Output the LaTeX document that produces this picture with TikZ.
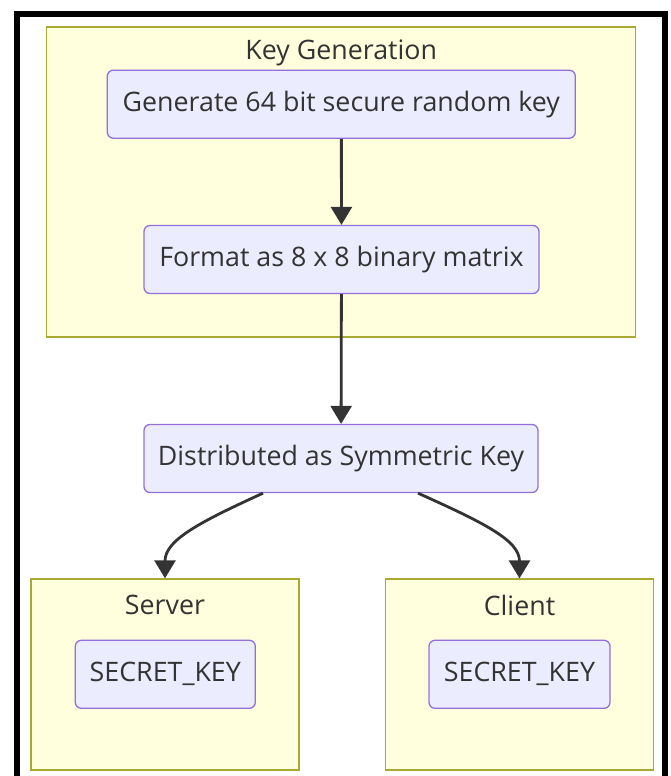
\documentclass[tikz,border=0pt]{standalone}
\usepackage{fontspec}
\setmainfont{Open Sans}
\usetikzlibrary{arrows.meta,calc}
\definecolor{clusterfill}{HTML}{FFFFDE}
\definecolor{clusterline}{HTML}{AAAA33}
\definecolor{nodefill}{HTML}{ECECFF}
\definecolor{nodeline}{HTML}{9370DB}
\definecolor{ink}{HTML}{333333}
\tikzset{
  x=1pt, y=-1pt,
  cluster/.style={draw=clusterline, fill=clusterfill, line width=1.3pt, inner sep=0pt},
  proc/.style={draw=nodeline, fill=nodefill, line width=1.3pt, rounded corners=6pt,
    inner sep=0pt, text=ink, font=\fontsize{26.8}{30}\selectfont},
  title/.style={text=ink, font=\fontsize{26.8}{30}\selectfont, inner sep=0pt},
  link/.style={draw=ink, line width=2.8pt, -{Triangle[length=18pt,width=21pt]}},
}
\begin{document}
\begin{tikzpicture}
\useasboundingbox (0,0) rectangle (670,776);
\begin{scope}
\clip (0,0) rectangle (670,776);
% outer frame, running off the lower edge
\draw[line width=6pt] (17,14.5) rectangle (665,820);
\end{scope}

% subgraph boxes
\node[cluster, minimum width=589pt, minimum height=310pt] (keygen) at (341.2,182) {};
\node[title] (keygenT) at (341.2,53) {Key Generation};
\node[cluster, minimum width=268pt, minimum height=191pt] (serverbox) at (165,674.5) {};
\node[title] (serverT) at (165,605) {Server};
\node[cluster, minimum width=268pt, minimum height=191pt] (clientbox) at (519.5,674.5) {};
\node[title] (clientT) at (519.5,605) {Client};

% process nodes
\node[proc, minimum width=468pt, minimum height=68pt] (gen) at (341.3,104.2) {Generate 64 bit secure random key};
\node[proc, minimum width=395pt, minimum height=68pt] (fmt) at (341.5,259.5) {Format as 8 x 8 binary matrix};
\node[proc, minimum width=394pt, minimum height=68pt] (dist) at (341,458.5) {Distributed as Symmetric Key};
\node[proc, minimum width=180pt, minimum height=68pt] (skey) at (165.3,674.3) {SECRET\_KEY};
\node[proc, minimum width=181pt, minimum height=68pt] (ckey) at (519.5,674.3) {SECRET\_KEY};

% connectors
\draw[link] (gen) -- (fmt);
\draw[link] (fmt) -- (dist);
\draw[link] ($(dist.south)+(-78,0)$) .. controls (200,522) and (165,540) .. (serverbox.north);
\draw[link] ($(dist.south)+(77,0)$) .. controls (482,522) and (519.5,540) .. (clientbox.north);
\end{tikzpicture}
\end{document}
